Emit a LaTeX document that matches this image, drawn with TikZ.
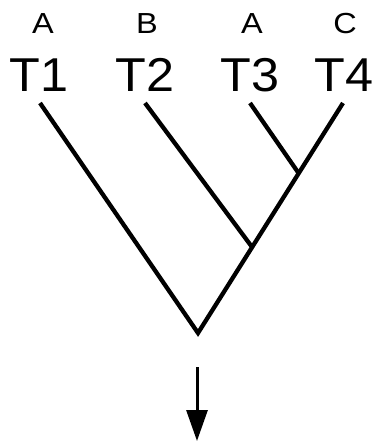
\documentclass[tikz,border=0pt]{standalone}
\usepackage{fontspec}
\setmainfont[FakeStretch=1.06]{Liberation Sans}
\newfontfamily\statefont[FakeStretch=1.12]{Liberation Sans}
\usetikzlibrary{arrows.meta}
\begin{document}
\begin{tikzpicture}[x=1pt,y=-1pt,
  taxon/.style={anchor=base,inner sep=0pt,font=\fontsize{47.5}{50}\selectfont},
  state/.style={anchor=base,inner sep=0pt,font=\statefont\fontsize{29}{32}\selectfont},
  branch/.style={line width=4.3pt,line cap=butt},
  outarrow/.style={line width=3pt,-{Triangle[length=31pt,width=21pt]}}]
\useasboundingbox (0,0) rectangle (380,444);
\node[state] (s1) at (43,34) {A};
\node[state] (s2) at (147,34) {B};
\node[state] (s3) at (252,34) {A};
\node[state] (s4) at (345,34) {C};
\node[taxon] (t1) at (39,92) {T1};
\node[taxon] (t2) at (145,92) {T2};
\node[taxon] (t3) at (250,92) {T3};
\node[taxon] (t4) at (344,92) {T4};
\coordinate (l1) at (40,103);
\coordinate (l2) at (145,103);
\coordinate (l3) at (250,103);
\coordinate (l4) at (343,103);
\coordinate (root) at (198,333);
\coordinate (j2) at (252,247);
\coordinate (j3) at (298.5,173);
\draw[branch] (l1) -- (root) -- (l4);
\draw[branch] (l2) -- (j2);
\draw[branch] (l3) -- (j3);
\coordinate (a1) at (197,367);
\coordinate (a2) at (197,441);
\draw[outarrow] (a1) -- (a2);
\end{tikzpicture}
\end{document}
